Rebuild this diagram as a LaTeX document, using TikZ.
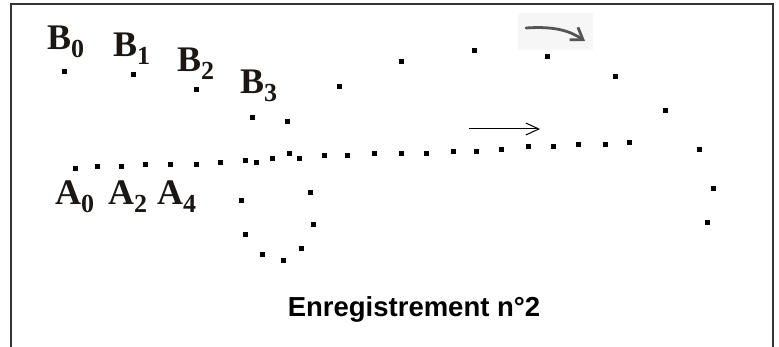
\documentclass[tikz,border=0pt]{standalone}
\usepackage{fontspec}
\usepackage{xcolor}
\usepackage{tikz}
\usetikzlibrary{arrows.meta,positioning}
\newfontfamily\labelfont{Liberation Serif}
\newfontfamily\captionfont{Liberation Sans}
\definecolor{frame}{HTML}{333333}
\definecolor{ink}{HTML}{1C1712}
\definecolor{pencil}{HTML}{555555}
\definecolor{smudge}{HTML}{F6F6F6}
\newcommand{\pointlbl}[2]{#1\raisebox{-0.2em}{\fontsize{26}{26}\selectfont #2}}

\begin{document}
\begin{tikzpicture}[
  x=1pt, y=-1pt,
  dot/.style={rectangle, fill=black, inner sep=0pt, minimum size=5pt},
  lbl/.style={anchor=base west, inner sep=0pt, text=ink, font=\labelfont\bfseries\fontsize{36}{36}\selectfont},
  caption/.style={inner sep=0pt, font=\captionfont\bfseries\fontsize{27.5}{27.5}\selectfont},
  arr/.style={-{Straight Barb[length=13pt, width=12pt]}, line width=1pt},
  penarr/.style={-{Straight Barb[length=11pt, width=15pt]}, line width=2.8pt, pencil, line cap=round}
]
\useasboundingbox (0,0) rectangle (779,347);
\fill[white] (0,0) rectangle (779,347);
\draw[frame, line width=1.8pt] (11,350) -- (11,4) -- (773,4) -- (773,350);

\foreach \x/\y [count=\i] in {64/72, 133/75, 196/90, 252/118, 287/122, 339/87, 401/62, 474/51,
  547/57, 615/77, 665/111, 699/150, 713/189, 707/223}
  \node[dot] (b\i) at (\x,\y) {};
\foreach \x/\y [count=\i] in {75/169, 97/167, 121/167, 145/165, 170/165, 196/165, 220/163, 245/161,
  256/163, 272/159, 289/154, 299/159, 324/156, 347/156, 374/154, 401/154, 426/154, 453/152,
  476/152, 501/150, 528/147, 553/147, 578/145, 605/145, 629/143}
  \node[dot] (a\i) at (\x,\y) {};
\foreach \x/\y [count=\i] in {241/201, 245/235, 262/255, 283/261, 301/249, 313/225, 310/193}
  \node[dot] (loop\i) at (\x,\y) {};

\node[lbl] (lblB0) at (47,50) {\pointlbl{B}{0}};
\node[lbl] (lblB1) at (113,57) {\pointlbl{B}{1}};
\node[lbl] (lblB2) at (177,72) {\pointlbl{B}{2}};
\node[lbl] (lblB3) at (240,94) {\pointlbl{B}{3}};
\node[lbl] (lblA0) at (55,205) {\pointlbl{A}{0}};
\node[lbl] (lblA2) at (108,205) {\pointlbl{A}{2}};
\node[lbl] (lblA4) at (157,205) {\pointlbl{A}{4}};

\node[caption] (title) at (414,309) {Enregistrement n°2};

\coordinate (movefrom) at (469,129);
\coordinate (moveto) at (540,129);
\draw[arr] (movefrom) -- (moveto);

\fill[smudge] (518,13) rectangle (593,50);
\coordinate (turnfrom) at (526,28);
\coordinate (turnto) at (585,41);
\draw[penarr] (turnfrom) .. controls (555,26) and (570,31) .. (turnto);
\end{tikzpicture}
\end{document}
